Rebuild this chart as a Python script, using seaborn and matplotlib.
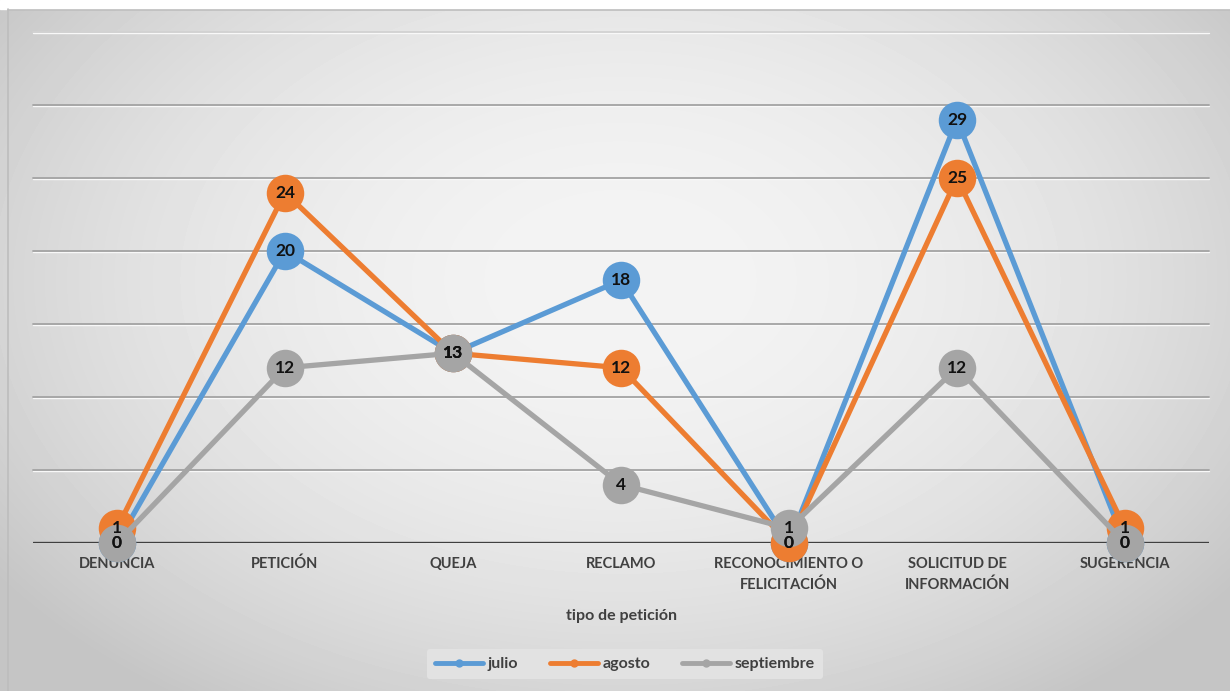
import numpy as np
import pandas as pd
import matplotlib
matplotlib.use("Agg")
import matplotlib.pyplot as plt
from matplotlib.lines import Line2D
from matplotlib.patches import Rectangle
import seaborn as sns

# ---- data ----
categorias = ["DENUNCIA", "PETICIÓN", "QUEJA", "RECLAMO",
              "RECONOCIMIENTO O\nFELICITACIÓN", "SOLICITUD DE\nINFORMACIÓN", "SUGERENCIA"]
julio = [0, 20, 13, 18, 0, 29, 0]
agosto = [1, 24, 13, 12, 0, 25, 1]
septiembre = [0, 12, 13, 4, 1, 12, 0]
meses = ["julio", "agosto", "septiembre"]
colores = {"julio": "#5B9BD5", "agosto": "#ED7D31", "septiembre": "#A5A5A5"}

df = pd.DataFrame({
    "pos": list(range(len(categorias))) * 3,
    "valor": julio + agosto + septiembre,
    "mes": [m for m in meses for _ in categorias],
})

sns.set_theme(style="white")
plt.rcParams["font.family"] = ["Lato", "DejaVu Sans"]

W, H = 1230, 691
fig = plt.figure(figsize=(W / 100, H / 100), dpi=100)

# radial grey background
bg = fig.add_axes([0, 0, 1, 1], zorder=-10)
yy, xx = np.mgrid[0:H, 0:W]
r2 = ((xx - 620) / 780.0) ** 2 + ((yy - 280) / 520.0) ** 2
shade = np.clip(0.955 - 0.19 * r2, 0.77, 0.96)
bg.imshow(shade, cmap="gray", vmin=0, vmax=1, extent=[0, W, H, 0], aspect="auto")
bg.add_patch(Rectangle((0, 0), W, 9, color="white", zorder=2))
bg.plot([8, 8], [9, H], color="#bdbdbd", lw=1.2, zorder=3)
bg.plot([8, W], [9.5, 9.5], color="#bdbdbd", lw=1.2, zorder=3)
bg.set_xlim(0, W)
bg.set_ylim(H, 0)
bg.axis("off")

ax = fig.add_axes([33 / W, 1 - 543 / H, (1209 - 33) / W, (543 - 32) / H])
ax.patch.set_alpha(0)

# horizontal grid lines with a faint light edge below
for g in range(5, 40, 5):
    ax.axhline(g - 0.09, color="#f8f8f8", lw=1.0, zorder=0.9)
    ax.axhline(g, color="#a3a3a3" if g < 35 else "#d2d2d2", lw=1.3, zorder=1)

sns.lineplot(data=df, x="pos", y="valor", hue="mes", hue_order=meses,
             palette=colores, linewidth=3.8, marker="o", markersize=27,
             markeredgewidth=0, sort=False, legend=False, ax=ax, zorder=3)
for ln in ax.lines:
    ln.set_clip_on(False)

# value labels
for serie in [julio, agosto, septiembre]:
    for i, v in enumerate(serie):
        ax.text(i, v, str(v), ha="center", va="center", fontsize=12.5,
                fontweight="bold", color="#111111", zorder=10, clip_on=False)

ax.axhline(0, color="#404040", lw=2.4, zorder=2)
ax.set_xlim(-0.5, len(categorias) - 0.5)
ax.set_ylim(0, 35)
ax.set_xticks(range(len(categorias)))
ax.set_xticklabels(categorias, fontsize=10.5, fontweight="bold", color="#404040",
                   linespacing=1.6, va="top")
ax.tick_params(axis="x", length=0, pad=10)
ax.set_yticks([])
ax.set_xlabel("tipo de petición", fontsize=11.5, fontweight="bold", color="#404040", labelpad=12)
ax.set_ylabel("")
for s in ax.spines.values():
    s.set_visible(False)

handles = [Line2D([0], [0], color=colores[m], lw=3.5, marker="o", markersize=6,
                  markeredgewidth=0) for m in meses]
leg = fig.legend(handles, meses, loc="center", bbox_to_anchor=(625 / W, 1 - 664 / H),
                 ncol=3, frameon=True, fontsize=11.5, handlelength=3.0, columnspacing=2.0,
                 handletextpad=0.3, borderpad=0.5)
leg.get_frame().set_facecolor("#e2e2e2")
leg.get_frame().set_edgecolor("none")
leg.get_frame().set_alpha(1)
for t in leg.get_texts():
    t.set_fontweight("bold")
    t.set_color("#404040")

fig.savefig("out.png", dpi=100)
